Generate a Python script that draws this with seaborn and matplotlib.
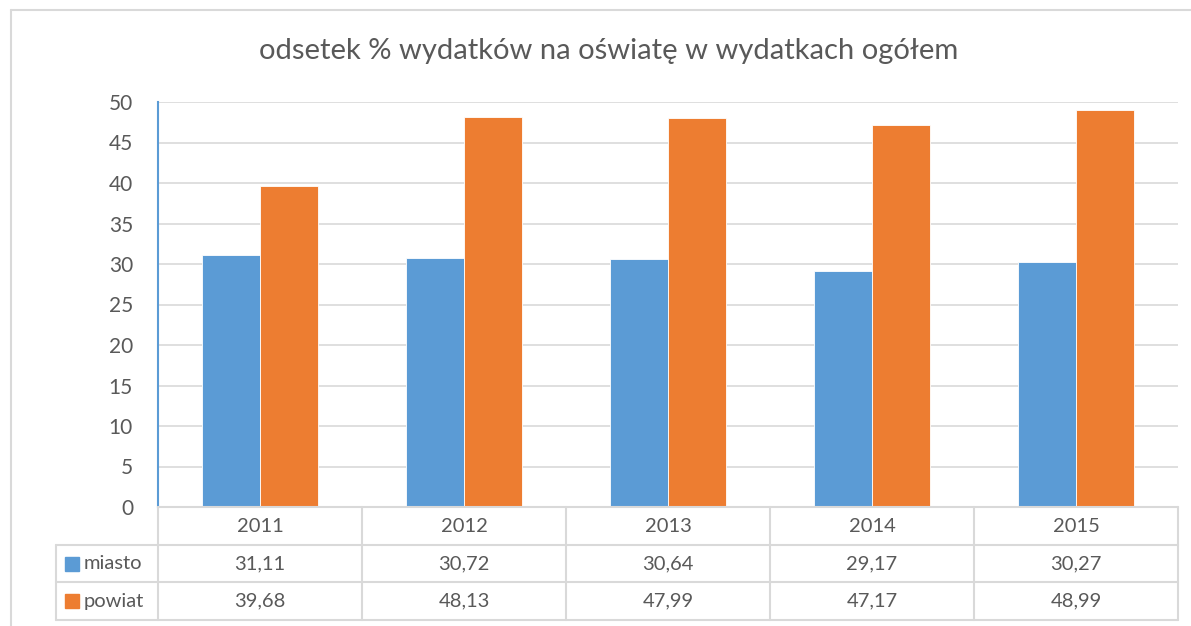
import numpy as np
import pandas as pd
import matplotlib
matplotlib.use("Agg")
import matplotlib.pyplot as plt
import seaborn as sns
from matplotlib.lines import Line2D
from matplotlib.patches import Rectangle

# --- data ---
years = ["2011", "2012", "2013", "2014", "2015"]
miasto = [31.11, 30.72, 30.64, 29.17, 30.27]
powiat = [39.68, 48.13, 47.99, 47.17, 48.99]
series = ["miasto", "powiat"]
colors = ["#5B9BD5", "#ED7D31"]
title = "odsetek % wydatków na oświatę w wydatkach ogółem"

df = pd.DataFrame({"rok": years * 2,
                   "seria": ["miasto"] * 5 + ["powiat"] * 5,
                   "wartosc": miasto + powiat})

W, H = 1191, 626
text_col = "#595959"
grid_col = "#D9D9D9"

sns.set_theme(style="white")
plt.rcParams["font.family"] = ["Lato", "DejaVu Sans"]

fig = plt.figure(figsize=(W / 100, H / 100), dpi=100)

def fx(px):
    return px / W

def fy(py):
    return 1 - py / H

# plot area in pixels
L, R, T, B = 158, 1178, 102, 507
ax = fig.add_axes([fx(L), fy(B), fx(R - L), (B - T) / H])

sns.barplot(data=df, x="rok", y="wartosc", hue="seria", palette=colors,
            saturation=1, width=0.57, gap=0, edgecolor="white", linewidth=0.6,
            legend=False, ax=ax)

ax.set_ylim(0, 50)
ax.set_xlim(-0.5, len(years) - 0.5)
ax.set_yticks(range(0, 51, 5))
ax.set_xticks([])
ax.set_xlabel("")
ax.set_ylabel("")
ax.tick_params(axis="y", length=0, pad=18, labelsize=15, labelcolor=text_col)
ax.yaxis.grid(True, color=grid_col, linewidth=1.2)
ax.set_axisbelow(True)
for s in ["top", "right", "bottom"]:
    ax.spines[s].set_visible(False)
ax.spines["left"].set_color("#5B9BD5")
ax.spines["left"].set_linewidth(1.5)

# title
fig.text(fx(609), fy(51), title, ha="center", va="center",
         fontsize=21, color=text_col)

# outer chart border
fig.add_artist(Line2D([fx(11), fx(11)], [fy(10), fy(H + 5)], color=grid_col, lw=1.5))
fig.add_artist(Line2D([fx(11), fx(W + 5)], [fy(10), fy(10)], color=grid_col, lw=1.5))

# data table
rows = [507, 545, 582, 620]
col_w = (R - L) / len(years)
leg_L = 56

def hline(x0, x1, y):
    fig.add_artist(Line2D([fx(x0), fx(x1)], [fy(y), fy(y)], color=grid_col, lw=1.5))

def vline(x, y0, y1):
    fig.add_artist(Line2D([fx(x), fx(x)], [fy(y0), fy(y1)], color=grid_col, lw=1.5))

hline(L, R, rows[0])
for y in rows[1:]:
    hline(leg_L, R, y)
vline(leg_L, rows[1], rows[3])
for i in range(len(years) + 1):
    vline(L + i * col_w, rows[0], rows[3])

for i, yr in enumerate(years):
    cx = L + (i + 0.5) * col_w
    fig.text(fx(cx), fy((rows[0] + rows[1]) / 2), yr, ha="center", va="center",
             fontsize=14.5, color=text_col)
    for j, vals in enumerate([miasto, powiat]):
        lab = f"{vals[i]:.2f}".replace(".", ",")
        fig.text(fx(cx), fy((rows[j + 1] + rows[j + 2]) / 2), lab,
                 ha="center", va="center", fontsize=14.5, color=text_col)

for j, name in enumerate(series):
    cy = (rows[j + 1] + rows[j + 2]) / 2
    fig.add_artist(Rectangle((fx(65), fy(cy + 7)), fx(14), 14 / H,
                             color=colors[j], transform=fig.transFigure))
    fig.text(fx(84), fy(cy), name, ha="left", va="center",
             fontsize=14.5, color=text_col)

fig.savefig("out.png", dpi=100)
